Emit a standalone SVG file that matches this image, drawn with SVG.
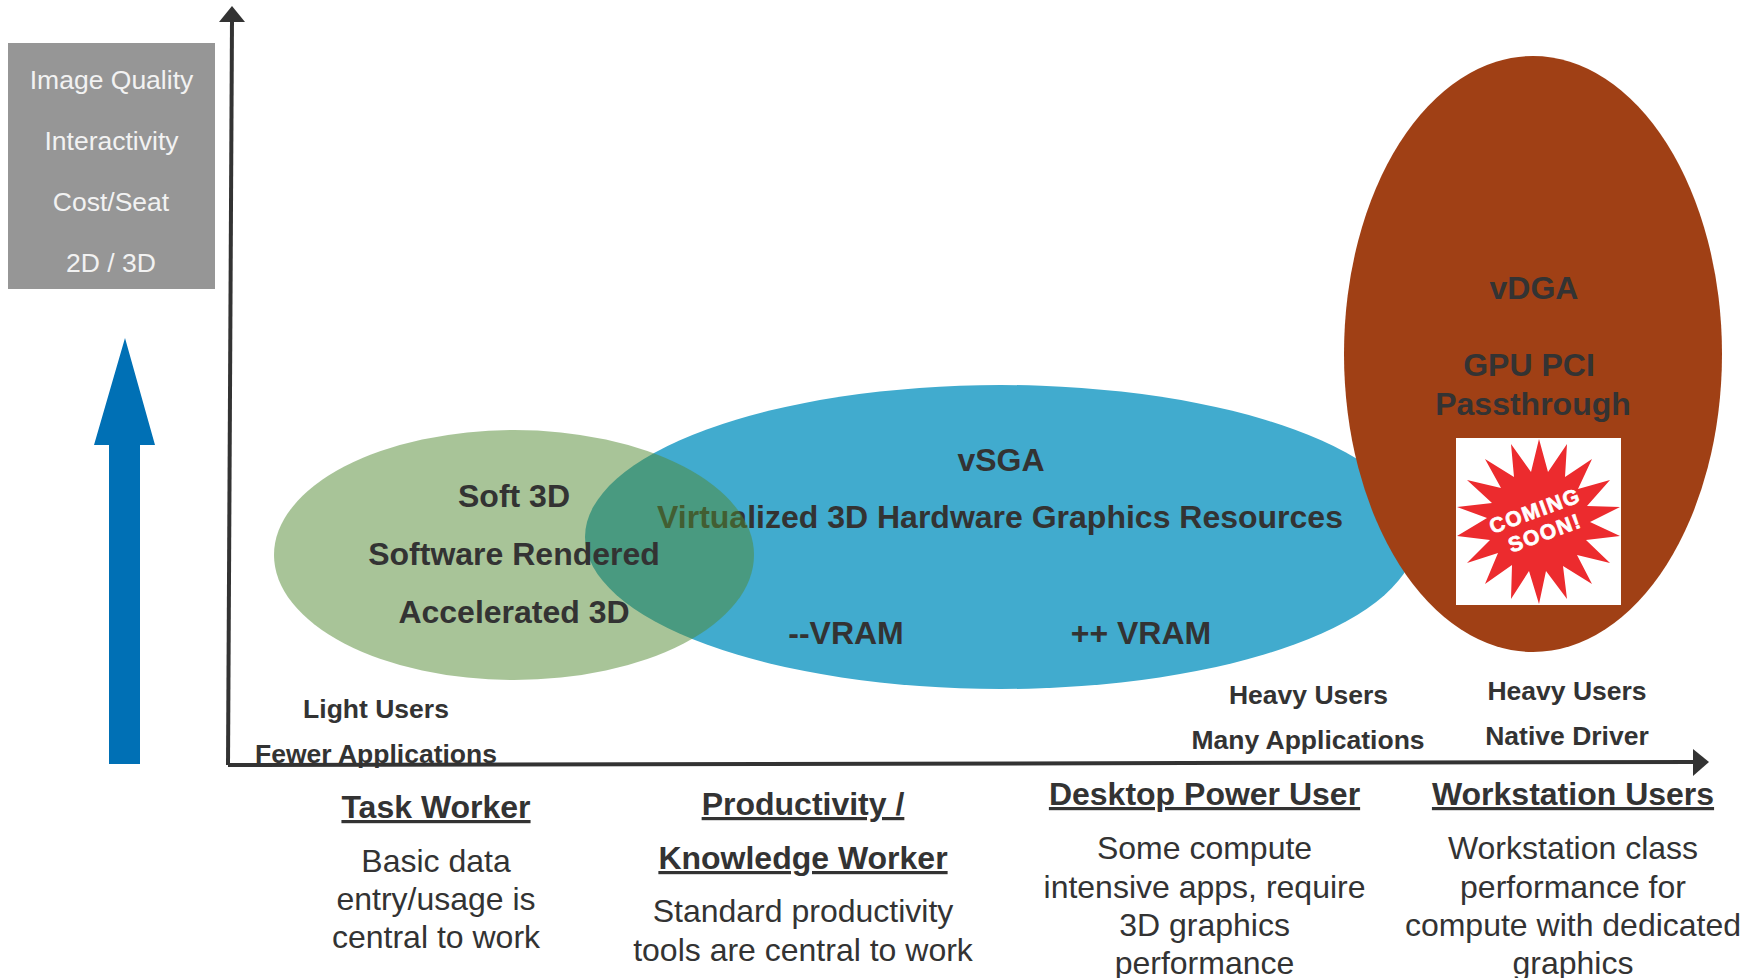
<svg xmlns="http://www.w3.org/2000/svg" width="1757" height="978" viewBox="0 0 1757 978">
<style>
text{font-family:"Liberation Sans",Arial,sans-serif;text-anchor:middle;fill:#333}
.h{font-weight:bold;font-size:32px;text-decoration:underline}
.d{font-size:32px}
.u{font-weight:bold;font-size:26.5px}
.e{font-weight:bold;font-size:32px}
.w{font-size:26.5px;fill:#f2f2f2}
.s{font-weight:bold;fill:#fff;stroke:#fff;stroke-width:.7;font-size:21px;letter-spacing:1.500px}
.ax{stroke:#333;stroke-width:4;fill:none}
</style>
<rect width="1757" height="978" fill="#fff"/>
<g id="quality-box">
<rect x="8" y="43" width="207" height="246" fill="#969696"/>
<text class="w" x="111.500" y="89">Image Quality</text>
<text class="w" x="111.500" y="150">Interactivity</text>
<text class="w" x="111" y="211">Cost/Seat</text>
<text class="w" x="111" y="272">2D / 3D</text>
</g>
<g id="up-arrow"><polygon points="125,338 155,445 140,445 140,764 109,764 109,445 94,445" fill="#0070b5"/></g>
<g id="vsga">
<ellipse cx="1000.500" cy="537" rx="415.500" ry="152" fill="#41abce"/>
<text class="e" x="1001" y="471">vSGA</text>
<text class="e" x="1000" y="528">Virtualized 3D Hardware Graphics Resources</text>
<text class="e" x="846" y="644">--VRAM</text>
<text class="e" x="1141" y="644">++ VRAM</text>
</g>
<g id="soft3d">
<ellipse cx="514" cy="555" rx="240" ry="125" fill="#518931" fill-opacity=".5"/>
<text class="e" x="514" y="507">Soft 3D</text>
<text class="e" x="514" y="565">Software Rendered</text>
<text class="e" x="514" y="623">Accelerated 3D</text>
</g>
<g id="vdga">
<ellipse cx="1533" cy="354" rx="189" ry="298" fill="#a04015"/>
<text class="e" x="1534" y="299">vDGA</text>
<text class="e" x="1529" y="376">GPU PCI</text>
<text class="e" x="1533" y="415">Passthrough</text>
</g>
<g id="coming-soon">
<rect x="1456" y="438" width="165" height="167" fill="#fff"/>
<polygon fill="#ec2b2e" points="1539,439 1548,472 1567,444 1565,477 1592,459 1578,489 1610,480 1587,506 1620,507 1590,522 1620,536 1586,540 1610,563 1577,555 1592,584 1563,566 1567,599 1546,571 1539,604 1529,571 1511,599 1512,565 1485,584 1498,553 1467,563 1490,540 1457,536 1487,518 1457,507 1492,503 1467,480 1501,488 1485,459 1514,477 1511,444 1531,472"/>
<text class="s" transform="translate(1535 511) rotate(-20)" y="7">COMING</text>
<text class="s" transform="translate(1545 533) rotate(-20)" y="7">SOON!</text>
</g>
<g id="connectors">
<line class="ax" x1="228" y1="765" x2="232" y2="20"/>
<polygon points="232,6 245,22 219,22" fill="#333"/>
<line class="ax" x1="228" y1="765" x2="1695" y2="762"/>
<polygon points="1709,762 1693,749 1693,776" fill="#333"/>
</g>
<g id="usage-labels">
<text class="u" x="376" y="718">Light Users</text>
<text class="u" x="376" y="763">Fewer Applications</text>
<text class="u" x="1308.500" y="704">Heavy Users</text>
<text class="u" x="1308" y="749">Many Applications</text>
<text class="u" x="1567" y="700">Heavy Users</text>
<text class="u" x="1567" y="745">Native Driver</text>
</g>
<g id="task-worker">
<text class="h" x="436" y="818">Task Worker</text>
<text class="d" x="436" y="872">Basic data</text>
<text class="d" x="436" y="910">entry/usage is</text>
<text class="d" x="436" y="948">central to work</text>
</g>
<g id="knowledge-worker">
<text class="h" x="803" y="815">Productivity /</text>
<text class="h" x="803" y="869">Knowledge Worker</text>
<text class="d" x="803" y="922">Standard productivity</text>
<text class="d" x="803" y="961">tools are central to work</text>
</g>
<g id="power-user">
<text class="h" x="1204.500" y="805">Desktop Power User</text>
<text class="d" x="1204.500" y="859">Some compute</text>
<text class="d" x="1204.500" y="898">intensive apps, require</text>
<text class="d" x="1204.500" y="936">3D graphics</text>
<text class="d" x="1204.500" y="974">performance</text>
</g>
<g id="workstation-users">
<text class="h" x="1573" y="805">Workstation Users</text>
<text class="d" x="1573" y="859">Workstation class</text>
<text class="d" x="1573" y="898">performance for</text>
<text class="d" x="1573" y="936">compute with dedicated</text>
<text class="d" x="1573" y="974">graphics</text>
</g>
</svg>
